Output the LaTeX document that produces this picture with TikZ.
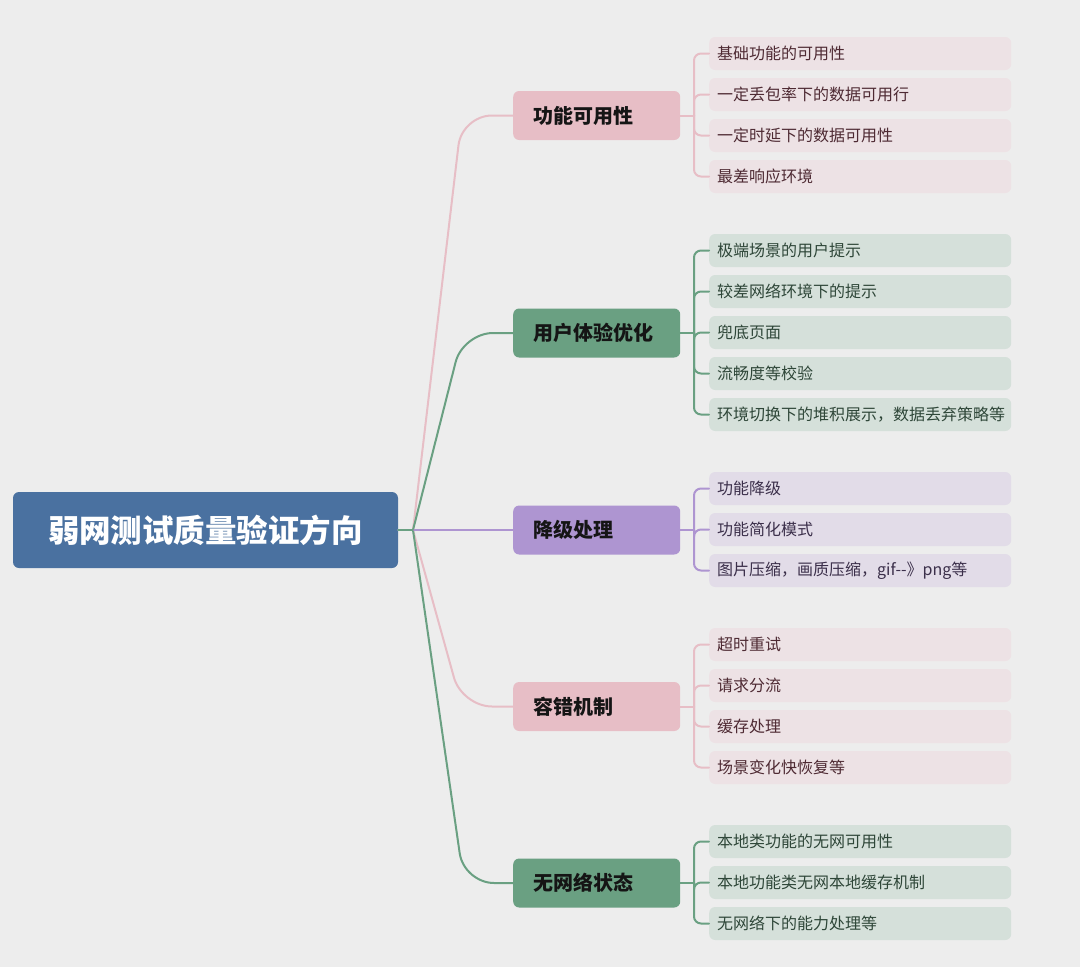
\documentclass[tikz,border=0pt]{standalone}
\usepackage{fontspec}
\newfontfamily\cjk{Noto Sans CJK SC}
\definecolor{bgc}{HTML}{EDEDED}
\definecolor{rootc}{HTML}{4A71A0}
\definecolor{pinkm}{HTML}{E7BEC6}
\definecolor{greenm}{HTML}{6AA082}
\definecolor{purplem}{HTML}{AE95D1}
\definecolor{pinkl}{HTML}{EDE2E5}
\definecolor{greenl}{HTML}{D5E0DA}
\definecolor{purplel}{HTML}{E2DCE8}
\definecolor{pinkt}{HTML}{4E2A33}
\definecolor{greent}{HTML}{2E4638}
\definecolor{purplet}{HTML}{3B2F4A}
\definecolor{maint}{HTML}{151515}
\begin{document}
\begin{tikzpicture}[x=1pt,y=-1pt,
  rootbox/.style={fill=rootc, rounded corners=6pt, minimum width=385pt, minimum height=76pt, text=white, font=\cjk\bfseries\fontsize{31.5}{36}\selectfont, inner sep=0pt},
  mainbox/.style={rounded corners=6pt, minimum height=49pt, text width=127pt, inner xsep=20pt, inner ysep=0pt, align=left, font=\cjk\bfseries\fontsize{20}{24}\selectfont, text=maint, anchor=west},
  leafbox/.style={rounded corners=6pt, minimum height=33pt, text width=286pt, inner xsep=8pt, inner ysep=0pt, align=left, font=\cjk\fontsize{16}{20}\selectfont, anchor=west},
  pleaf/.style={leafbox, fill=pinkl, text=pinkt},
  gleaf/.style={leafbox, fill=greenl, text=greent},
  vleaf/.style={leafbox, fill=purplel, text=purplet},
  conn/.style={line width=2pt, line cap=round},
  pconn/.style={conn, draw=pinkm},
  gconn/.style={conn, draw=greenm},
  vconn/.style={conn, draw=purplem},
  bracket/.style={rounded corners=7pt},
  branch/.style={rounded corners=30pt}
]
\fill[bgc] (0,0) rectangle (1080,967);
\useasboundingbox (0,0) rectangle (1080,967);

% root
\node[rootbox] (root) at (205.5,530) {弱网测试质量验证方向};
\coordinate (hub) at (413,530);

% main nodes
\node[mainbox, fill=pinkm] (m1) at (513,115.5) {功能可用性};
\node[mainbox, fill=greenm] (m2) at (513,333) {用户体验优化};
\node[mainbox, fill=purplem] (m3) at (513,530) {降级处理};
\node[mainbox, fill=pinkm] (m4) at (513,706.5) {容错机制};
\node[mainbox, fill=greenm] (m5) at (513,883) {无网络状态};

% leaves
\node[pleaf] (a1) at (709,53.5) {基础功能的可用性};
\node[pleaf] (a2) at (709,94.5) {一定丢包率下的数据可用行};
\node[pleaf] (a3) at (709,135.5) {一定时延下的数据可用性};
\node[pleaf] (a4) at (709,176.5) {最差响应环境};

\node[gleaf] (b1) at (709,250.5) {极端场景的用户提示};
\node[gleaf] (b2) at (709,291.5) {较差网络环境下的提示};
\node[gleaf] (b3) at (709,332.5) {兜底页面};
\node[gleaf] (b4) at (709,373.5) {流畅度等校验};
\node[gleaf] (b5) at (709,414.5) {环境切换下的堆积展示，数据丢弃策略等};

\node[vleaf] (c1) at (709,488.5) {功能降级};
\node[vleaf] (c2) at (709,529.5) {功能简化模式};
\node[vleaf] (c3) at (709,570.5) {图片压缩，画质压缩，gif-{}-》png等};

\node[pleaf] (d1) at (709,644.5) {超时重试};
\node[pleaf] (d2) at (709,685.5) {请求分流};
\node[pleaf] (d3) at (709,726.5) {缓存处理};
\node[pleaf] (d4) at (709,767.5) {场景变化快恢复等};

\node[gleaf] (e1) at (709,841.5) {本地类功能的无网可用性};
\node[gleaf] (e2) at (709,882.5) {本地功能类无网本地缓存机制};
\node[gleaf] (e3) at (709,923.5) {无网络下的能力处理等};

% root to main connectors
\coordinate (k1) at (462,115.5);
\coordinate (k2) at (463,333);
\coordinate (k4) at (462,706.5);
\coordinate (k5) at (464,883);
\draw[pconn, branch] (hub) -- (k1) -- (m1.west);
\draw[pconn, branch] (hub) -- (k4) -- (m4.west);
\draw[gconn, branch] (hub) -- (k2) -- (m2.west);
\draw[gconn, branch] (hub) -- (k5) -- (m5.west);
\draw[vconn] (root.east) -- (m3.west);
\draw[gconn] (root.east) -- (hub);

% main to leaves
\coordinate (j1) at (694,115.5);
\coordinate (j2) at (694,333);
\coordinate (j3) at (694,530);
\coordinate (j4) at (694,706.5);
\coordinate (j5) at (694,883);

\draw[pconn] (m1.east) -- (j1);
\foreach \l in {a1,a2,a3,a4} \draw[pconn, bracket] (j1) |- (\l.west);
\draw[gconn] (m2.east) -- (j2);
\foreach \l in {b1,b2,b3,b4,b5} \draw[gconn, bracket] (j2) |- (\l.west);
\draw[vconn] (m3.east) -- (j3);
\foreach \l in {c1,c2,c3} \draw[vconn, bracket] (j3) |- (\l.west);
\draw[pconn] (m4.east) -- (j4);
\foreach \l in {d1,d2,d3,d4} \draw[pconn, bracket] (j4) |- (\l.west);
\draw[gconn] (m5.east) -- (j5);
\foreach \l in {e1,e2,e3} \draw[gconn, bracket] (j5) |- (\l.west);
\end{tikzpicture}
\end{document}
